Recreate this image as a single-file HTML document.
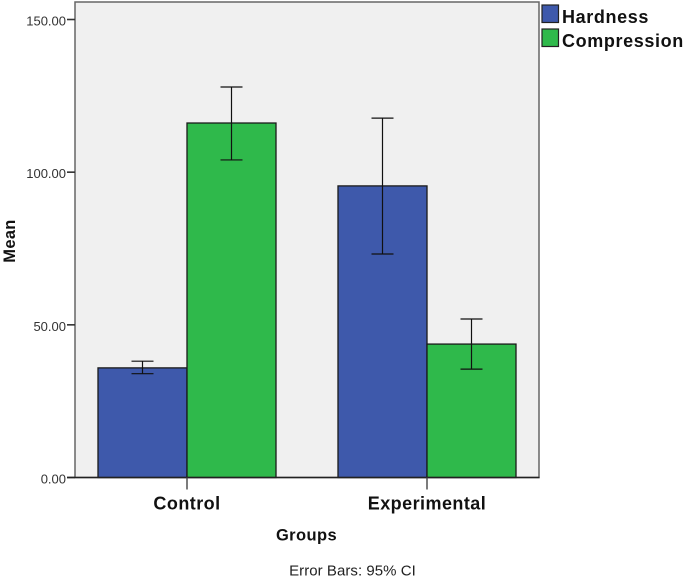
<!DOCTYPE html>
<html>
<head>
<meta charset="utf-8">
<style>
html,body{margin:0;padding:0;background:#fff;}
svg{display:block;font-family:"Liberation Sans",Arial,sans-serif;filter:blur(0.35px);}
</style>
</head>
<body>
<svg id="chart" width="685" height="579" viewBox="0 0 685 579" xmlns="http://www.w3.org/2000/svg">
<rect x="75" y="2" width="464" height="475.5" fill="#f0f0f0" stroke="#666" stroke-width="1.5"/>
<g id="y-axis"></g>
<g id="bars"></g>
<g id="error-bars"></g>
<g id="x-axis"></g>
<text transform="translate(15,241) rotate(-90)" text-anchor="middle" font-size="16.5" font-weight="bold" letter-spacing="0.3" fill="#111">Mean</text>
<text x="306.5" y="540.5" text-anchor="middle" font-size="16.5" font-weight="bold" letter-spacing="0.4" fill="#111">Groups</text>
<text x="352.5" y="575.5" text-anchor="middle" font-size="15" letter-spacing="0.05" fill="#222">Error Bars: 95% CI</text>
<g id="legend"></g>
</svg>
<script>
const categories = ["Control", "Experimental"];
const seriesNames = ["Hardness", "Compression"];
const seriesColors = ["#3e59ab", "#2fb94b"];
const hardnessValues = [35.9, 95.5];
const compressionValues = [116.1, 43.7];
const hardnessLow = [34.0, 73.2];
const hardnessHigh = [38.1, 117.7];
const compressionLow = [104.0, 35.5];
const compressionHigh = [127.9, 51.9];
const yTicks = [0, 50, 100, 150];

const NS = "http://www.w3.org/2000/svg";
const y = v => 477.5 - v * 3.0533;
const xCenter = i => 187 + i * 240;
const barWidth = 89;
const capHalf = 11;

function make(tag, attrs, parent, text) {
  const el = document.createElementNS(NS, tag);
  for (const k in attrs) el.setAttribute(k, attrs[k]);
  if (text !== undefined) el.textContent = text;
  parent.appendChild(el);
  return el;
}

const yAxis = document.getElementById("y-axis");
yTicks.forEach(t => {
  const tick = make("line", {x1: 67, x2: 75, y1: y(t), y2: y(t), stroke: "#333", "stroke-width": 1.6}, yAxis);
  
  
  const label = make("text", {x: 66, y: y(t) + 6, "text-anchor": "end", "font-size": 13, fill: "#333"}, yAxis, t.toFixed(2));
  
  
});

const barsG = document.getElementById("bars");
const errG = document.getElementById("error-bars");
const seriesValues = [hardnessValues, compressionValues];
const seriesLow = [hardnessLow, compressionLow];
const seriesHigh = [hardnessHigh, compressionHigh];

seriesValues.forEach((vals, s) => {
  vals.forEach((v, i) => {
    const x = xCenter(i) + (s - 1) * barWidth;
    const bar = make("rect", {x: x, y: y(v), width: barWidth, height: y(0) - y(v), fill: seriesColors[s], stroke: "#1a1a1a", "stroke-width": 1.3}, barsG);
    
    
  });
});

seriesValues.forEach((vals, s) => {
  vals.forEach((v, i) => {
    const cx = xCenter(i) + (s - 0.5) * barWidth;
    const hi = y(seriesHigh[s][i]);
    const lo = y(seriesLow[s][i]);
    const stem = make("line", {x1: cx, x2: cx, y1: hi, y2: lo, stroke: "#111", "stroke-width": 1.2}, errG);
    
    
    const capTop = make("line", {x1: cx - capHalf, x2: cx + capHalf, y1: hi, y2: hi, stroke: "#111", "stroke-width": 1.2}, errG);
    
    
    const capBottom = make("line", {x1: cx - capHalf, x2: cx + capHalf, y1: lo, y2: lo, stroke: "#111", "stroke-width": 1.2}, errG);
    
    
  });
});

const xAxis = document.getElementById("x-axis");
const baseline = make("line", {x1: 67, x2: 539.5, y1: y(0), y2: y(0), stroke: "#222", "stroke-width": 1.6}, xAxis);


categories.forEach((c, i) => {
  const tick = make("line", {x1: xCenter(i), x2: xCenter(i), y1: y(0), y2: y(0) + 12, stroke: "#444", "stroke-width": 1.4}, xAxis);
  
  
  const label = make("text", {x: xCenter(i), y: 509.5, "text-anchor": "middle", "font-size": 18, "font-weight": "bold", "letter-spacing": 0.45, fill: "#111"}, xAxis, c);
  
  
});

const legend = document.getElementById("legend");
seriesNames.forEach((n, s) => {
  const top = 5 + s * 24;
  const swatch = make("rect", {x: 542, y: top, width: 16.5, height: 17.5, fill: seriesColors[s], stroke: "#222", "stroke-width": 1.2}, legend);
  
  
  const label = make("text", {x: 562, y: top + 18, "font-size": 18, "font-weight": "bold", "letter-spacing": 0.62, fill: "#111"}, legend, n);
  
  
});
</script>
</body>
</html>
